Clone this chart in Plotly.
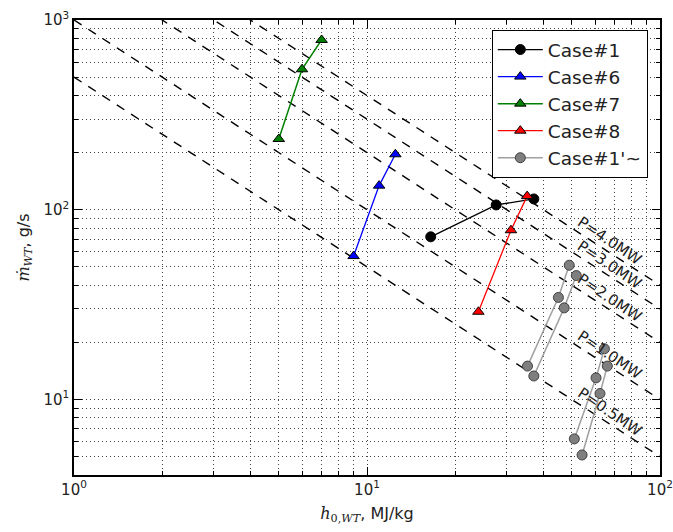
import numpy as np
import plotly.graph_objects as go

# Operating points: stagnation enthalpy h0 (MJ/kg) and mass flow (g/s)
case1_h = [16.5, 27.6, 37.1]
case1_m = [72, 106, 114]

case6_h = [9.0, 11.0, 12.5]
case6_m = [57, 134, 196]

case7_h = [5.0, 6.0, 7.0]
case7_m = [236, 550, 785]

case8_h = [24.0, 31.0, 35.2]
case8_m = [29, 78, 118]

# Case#1' variants (four separate sweeps, one legend entry)
case1p_h = [
    [49.0, 45.0, 35.3],
    [51.8, 47.1, 37.1],
    [64.6, 60.5, 51.0],
    [66.1, 62.4, 54.2],
]
case1p_m = [
    [51, 34.5, 15.0],
    [45, 30.4, 13.3],
    [18.5, 13.0, 6.2],
    [15.0, 10.75, 5.1],
]

# Constant-power lines, P = mdot * h0
power_mw = [0.5, 1.0, 2.0, 3.0, 4.0]
power_labels = ["P=0.5MW", "P=1.0MW", "P=2.0MW", "P=3.0MW", "P=4.0MW"]

X_RANGE = (1.0, 100.0)
Y_RANGE = (4.0, 1000.0)
LABEL_H = 67.5

FONT = "DejaVu Sans, Liberation Sans, sans-serif"
SERIF = "DejaVu Serif, Liberation Serif, serif"

fig = go.Figure()

# iso-power dashed lines (straight on log-log axes)
for p in power_mw:
    hx = np.array(X_RANGE)
    fig.add_trace(go.Scatter(
        x=hx, y=p * 1000.0 / hx, mode="lines",
        line=dict(color="black", width=1.4, dash="9px,8px"),
        showlegend=False, hoverinfo="skip",
    ))

edge = dict(color="black", width=1)
fig.add_trace(go.Scatter(
    x=case1_h, y=case1_m, mode="lines+markers", name="Case#1",
    line=dict(color="black", width=1.3),
    marker=dict(symbol="circle", size=10, color="black", line=edge),
))
fig.add_trace(go.Scatter(
    x=case6_h, y=case6_m, mode="lines+markers", name="Case#6",
    line=dict(color="#0000ff", width=1.3),
    marker=dict(symbol="triangle-up", size=10, color="#0000ff", line=edge),
))
fig.add_trace(go.Scatter(
    x=case7_h, y=case7_m, mode="lines+markers", name="Case#7",
    line=dict(color="#008000", width=1.5),
    marker=dict(symbol="triangle-up", size=10, color="#008000", line=edge),
))
fig.add_trace(go.Scatter(
    x=case8_h, y=case8_m, mode="lines+markers", name="Case#8",
    line=dict(color="#ff0000", width=1.3),
    marker=dict(symbol="triangle-up", size=10, color="#ff0000", line=edge),
))
for i, (hh, mm) in enumerate(zip(case1p_h, case1p_m)):
    fig.add_trace(go.Scatter(
        x=hh, y=mm, mode="lines+markers", name="Case#1'~",
        legendgroup="case1p", showlegend=(i == 0),
        line=dict(color="#a0a0a0", width=1.5),
        marker=dict(symbol="circle", size=10, color="#7f7f7f",
                    line=dict(color="#404040", width=1)),
    ))

# labels along the iso-power lines
for p, txt in zip(power_mw, power_labels):
    fig.add_annotation(
        x=np.log10(LABEL_H), y=np.log10(p * 1000.0 / LABEL_H),
        text=txt, showarrow=False, textangle=34, yshift=12,
        font=dict(family=FONT, size=15, color="#222222"),
    )

minor_x = [k * 10 ** d for d in range(0, 2) for k in range(2, 10)]
minor_y = [k * 10 ** d for d in range(0, 3) for k in range(2, 10) if k * 10 ** d >= 4]

grid_common = dict(
    showgrid=True, gridcolor="#444444", gridwidth=1, griddash="1px,3px",
    showline=True, linecolor="black", linewidth=1.5, mirror="ticks",
    ticks="inside", ticklen=8, tickwidth=1, tickcolor="black",
    zeroline=False, automargin=False,
    tickfont=dict(family=FONT, size=15, color="#222222"),
)

fig.update_xaxes(
    type="log", range=[np.log10(X_RANGE[0]), np.log10(X_RANGE[1])],
    tickmode="array", tickvals=[1, 10, 100],
    ticktext=["10<sup>0</sup>", "10<sup>1</sup>", "10<sup>2</sup>"],
    minor=dict(tickmode="array", tickvals=minor_x, showgrid=True,
               gridcolor="#444444", griddash="1px,3px", gridwidth=1,
               ticks="inside", ticklen=4, tickcolor="black"),
    title=dict(
        text=f"<span style='font-family:{SERIF}'><i>h</i><sub>0,<i>WT</i></sub></span>, MJ/kg",
        font=dict(family=FONT, size=16, color="#222222"), standoff=10),
    **grid_common,
)
fig.update_yaxes(
    type="log", range=[np.log10(Y_RANGE[0]), np.log10(Y_RANGE[1])],
    tickmode="array", tickvals=[10, 100, 1000],
    ticktext=["10<sup>1</sup>", "10<sup>2</sup>", "10<sup>3</sup>"],
    minor=dict(tickmode="array", tickvals=minor_y, showgrid=True,
               gridcolor="#444444", griddash="1px,3px", gridwidth=1,
               ticks="inside", ticklen=4, tickcolor="black"),
    title=dict(
        text=f"<span style='font-family:{SERIF}'><i>ṁ</i><sub><i>WT</i></sub></span>, g/s",
        font=dict(family=FONT, size=16, color="#222222"), standoff=10),
    **grid_common,
)

fig.update_layout(
    width=673, height=532,
    margin=dict(l=74, r=13, t=20, b=57, autoexpand=False),
    paper_bgcolor="white", plot_bgcolor="white",
    font=dict(family=FONT, color="#222222"),
    legend=dict(
        x=0.713, y=0.978, xanchor="left", yanchor="top",
        bgcolor="white", bordercolor="black", borderwidth=1,
        font=dict(family=FONT, size=18.5, color="#222222"),
        itemwidth=45, traceorder="normal", tracegroupgap=0,
    ),
)

fig.write_html("out.html")
